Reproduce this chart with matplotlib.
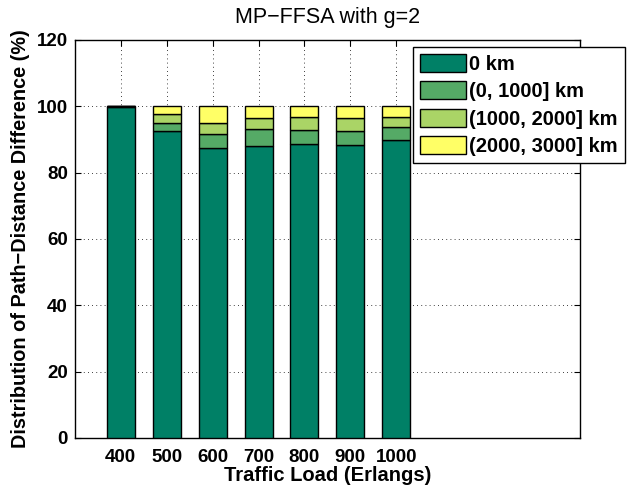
import numpy as np
import matplotlib.pyplot as plt

OUTPUT_PATH = "out.png"

plt.rcParams["font.family"] = ["Liberation Sans", "DejaVu Sans"]

# Traffic loads and the share (%) of each path-distance difference bin
loads = ["400", "500", "600", "700", "800", "900", "1000"]
bins = ["0 km", "(0, 1000] km", "(1000, 2000] km", "(2000, 3000] km"]
share_0 = [99.6, 92.6, 87.3, 88.1, 88.6, 88.4, 89.7]
share_1000 = [0.3, 2.4, 4.2, 5.1, 4.1, 4.2, 4.1]
share_2000 = [0.1, 2.7, 3.5, 3.3, 3.9, 3.7, 3.0]
share_3000 = [0.0, 2.3, 5.0, 3.5, 3.4, 3.7, 3.2]

# MATLAB "summer" colormap sampled at 4 levels
colors = ["#008066", "#55aa66", "#aad466", "#ffff66"]


def save_distribution_chart():
    fig = plt.figure(figsize=(6.29, 4.91), dpi=100)
    ax = fig.add_axes([0.119, 0.108, 0.803, 0.811])

    x = np.arange(1, len(loads) + 1)
    bottom = np.zeros(len(loads))
    for label, vals, col in zip(bins, [share_0, share_1000, share_2000, share_3000], colors):
        ax.bar(x, vals, width=0.61, bottom=bottom, color=col,
               edgecolor="black", linewidth=1.0, label=label, zorder=3)
        bottom += np.array(vals)

    ax.set_xlim(0, 11)
    ax.set_ylim(0, 120)
    ax.set_xticks(x)
    ax.set_xticklabels(loads)
    ax.set_yticks(np.arange(0, 121, 20))
    ax.tick_params(direction="in", top=True, right=True, length=4, width=0.8,
                   labelsize=13.5)
    ax.tick_params(axis="x", pad=8)
    ax.tick_params(axis="y", pad=5)
    for lab in ax.get_xticklabels() + ax.get_yticklabels():
        lab.set_fontweight("bold")

    ax.grid(True, linestyle=(0, (1, 4)), color="black", linewidth=0.6, zorder=0)
    for s in ax.spines.values():
        s.set_linewidth(1.0)

    ax.set_xlabel("Traffic Load (Erlangs)", fontsize=14.5, fontweight="bold", labelpad=0)
    ax.set_ylabel("Distribution of Path\u2212Distance Difference (%)", fontsize=14.3,
                  fontweight="bold", labelpad=5)
    ax.set_title("MP\u2212FFSA with g=2", fontsize=15.5, pad=12)

    leg = fig.legend(loc="upper left", bbox_to_anchor=(0.6566, 0.9043),
                     prop={"weight": "bold", "size": 14.5}, frameon=True,
                     fancybox=False, edgecolor="black", framealpha=1,
                     handlelength=2.3, handleheight=1.0, labelspacing=0.37,
                     handletextpad=0.15, borderpad=0.35, borderaxespad=0)
    leg.get_frame().set_linewidth(1.0)

    fig.savefig(OUTPUT_PATH, dpi=100)
    plt.close(fig)


if __name__ == "__main__":
    save_distribution_chart()
